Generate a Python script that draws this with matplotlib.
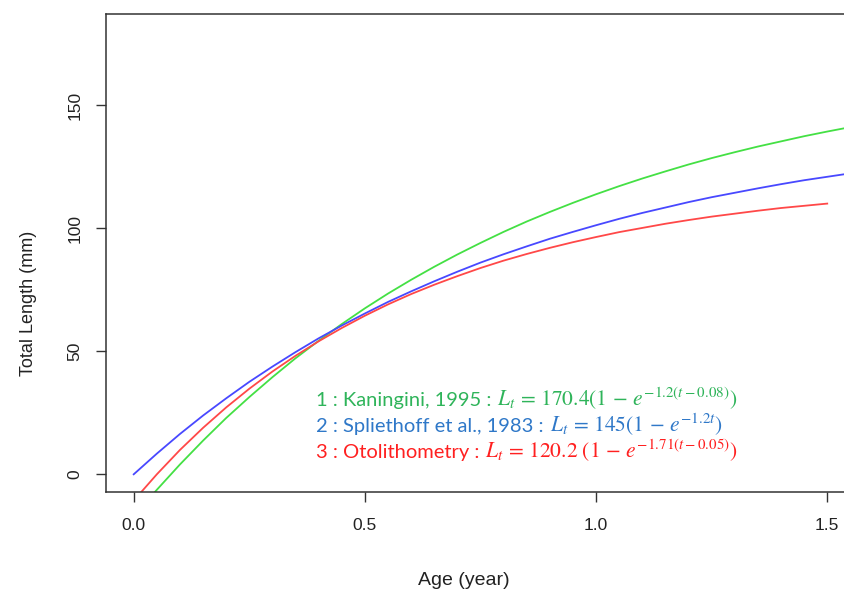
import numpy as np
import matplotlib.pyplot as plt

plt.rcParams['font.family'] = ['Liberation Sans', 'DejaVu Sans']
plt.rcParams['mathtext.fontset'] = 'stix'

# ages (year) and lengths (mm)
age = [0.00, 0.05, 0.10, 0.15, 0.20, 0.25, 0.30, 0.35, 0.40, 0.45, 0.50,
       0.55, 0.60, 0.65, 0.70, 0.75, 0.80, 0.85, 0.90, 0.95, 1.00,
       1.05, 1.10, 1.15, 1.20, 1.25, 1.30, 1.35, 1.40, 1.45, 1.50, 1.55, 1.60]
kaningini = [-17.2, -6.3, 4.0, 13.7, 22.9, 31.4, 39.5, 47.2, 54.3, 61.1, 67.5,
             73.5, 79.1, 84.4, 89.4, 94.1, 98.6, 102.8, 106.7, 110.4, 113.9,
             117.2, 120.3, 123.2, 126.0, 128.6, 131.0, 133.3, 135.4, 137.5, 139.4, 141.2, 142.9]
spliethoff = [0.0, 8.4, 16.4, 23.9, 30.9, 37.6, 43.8, 49.7, 55.3, 60.5, 65.4,
              70.1, 74.4, 78.5, 82.4, 86.1, 89.5, 92.7, 95.8, 98.6, 101.3,
              103.9, 106.3, 108.5, 110.7, 112.7, 114.5, 116.3, 118.0, 119.6, 121.0, 122.4, 123.7]
otolith = [-10.7, 0.0, 9.9, 18.9, 27.2, 34.8, 41.8, 48.2, 54.1, 59.5, 64.5,
           69.1, 73.3, 77.1, 80.6, 83.9, 86.9, 89.6, 92.1, 94.4, 96.5,
           98.5, 100.2, 101.9, 103.4, 104.8, 106.0, 107.2, 108.3, 109.2, 110.1]

labels = ['1 : Kaningini, 1995 :', '2 : Spliethoff et al., 1983 :', '3 : Otolithometry :']
equations = [r'$L_t\,=\,170.4(1\,-\,e^{-1.2(t-0.08)})$',
             r'$L_t\,=\,145(1\,-\,e^{-1.2t})$',
             r'$L_t\,=\,120.2\ (1\,-\,e^{-1.71(t-0.05)})$']
text_colors = ['#2fb45a', '#2f78c8', '#ff2020']

fig = plt.figure(figsize=(8.45, 5.94), dpi=100)
ax = fig.add_axes([0.1254, 0.1717, 0.8864, 0.8047])

ax.plot(age, kaningini, color='#44e044', lw=1.3)
ax.plot(age, spliethoff, color='#4848ff', lw=1.3)
ax.plot(age[:len(otolith)], otolith, color='#ff4848', lw=1.3)

ax.set_xlim(-0.06, 1.56)
ax.set_ylim(-7.2, 187.2)
ax.set_xticks([0.0, 0.5, 1.0, 1.5])
ax.set_xticklabels(['0.0', '0.5', '1.0', '1.5'])
ax.set_yticks([0, 50, 100, 150])
ax.tick_params(axis='both', direction='out', length=7, width=1, colors='#333333',
               labelsize=12.5, labelcolor='#222222')
ax.tick_params(axis='x', pad=12)
ax.tick_params(axis='y', pad=10)
for lab in ax.get_yticklabels():
    lab.set_rotation(90)
    lab.set_va('center')
for s in ax.spines.values():
    s.set_color('#333333')
    s.set_linewidth(1.1)

fig.text(0.5485, 0.008, 'Age (year)', ha='center', va='bottom', fontsize=14, color='#222222')
fig.text(0.024, 0.49, 'Total Length (mm)', ha='left', va='center', rotation=90,
         fontsize=13, color='#222222')

# legend-like text block: plain text part then equation
baselines = [406, 432, 458]
fig.canvas.draw()
renderer = fig.canvas.get_renderer()
W, H = fig.bbox.width, fig.bbox.height
for lab, eq, c, yb in zip(labels, equations, text_colors, baselines):
    t = fig.text(316 / W, 1 - yb / H, lab, color=c, fontsize=14.5,
                 family=['Lato', 'DejaVu Sans'], ha='left', va='baseline')
    ext = t.get_window_extent(renderer)
    fig.text((ext.x1 + 6) / W, 1 - yb / H, eq, color=c, fontsize=15.5,
             ha='left', va='baseline')

fig.savefig('out.png', dpi=100)
